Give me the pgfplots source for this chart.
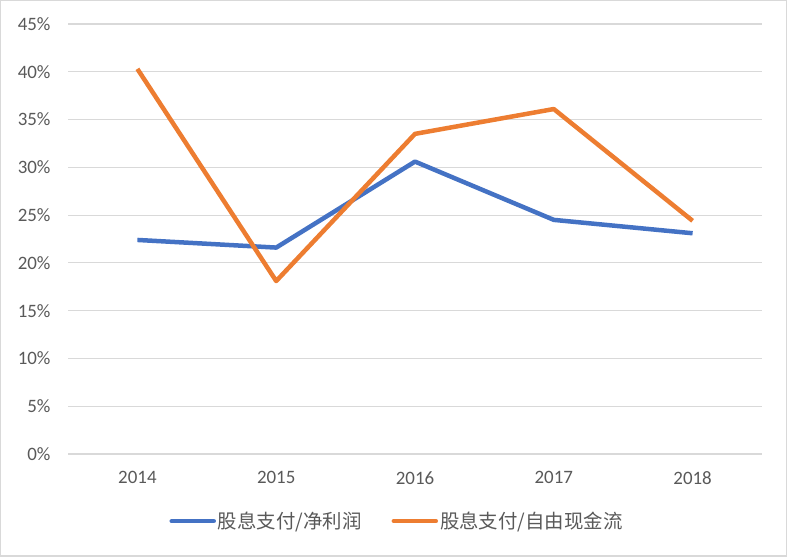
\documentclass[border=0pt]{standalone}
\usepackage{pgfplots}
\pgfplotsset{compat=1.18}
\usepackage{fontspec}
\setmainfont{Carlito}
\newfontfamily\cjk{Noto Sans CJK SC}
\definecolor{xblue}{HTML}{4472C4}
\definecolor{xorange}{HTML}{ED7D31}
\definecolor{xgrid}{HTML}{D9D9D9}
\definecolor{xtext}{HTML}{595959}
\begin{document}
\begin{tikzpicture}[x=1bp,y=1bp]
\draw[draw=xgrid,line width=1.5bp] (0.75,0.75) rectangle (786.25,556.25);
\begin{axis}[
  at={(68bp,103bp)}, anchor=south west,
  scale only axis, width=694bp, height=430bp,
  xmin=2013.5, xmax=2018.5, ymin=0, ymax=45,
  axis line style={draw=none},
  xtick={2014,2015,2016,2017,2018},
  ytick={0,5,...,45},
  xticklabel style={/pgf/number format/1000 sep={}},
  yticklabel={\pgfmathprintnumber{\tick}\%},
  /pgf/number format/assume math mode=true,
  tick style={draw=none},
  ymajorgrids, grid style={xgrid, line width=1.2bp},
  ticklabel style={font=\fontsize{19}{22}\selectfont, text=xtext},
  xticklabel style={yshift=-14bp},
  yticklabel style={xshift=-14bp},
  legend style={at={(0.5,-0.156)}, anchor=center, xshift=-18bp, draw=none, fill=none,
    legend columns=2, font=\fontsize{19.5}{22}\selectfont\cjk, text=xtext,
    /tikz/every even column/.append style={column sep=28bp}},
  legend image code/.code={\draw[#1, line cap=round] (0bp,0bp) -- (42bp,0bp);},
]
\addplot[xblue, line width=4.5bp, line join=round] coordinates {
(2014,22.4) (2015,21.6) (2016,30.6) (2017,24.5) (2018,23.1)};
\addlegendentry{股息支付/净利润}
\addplot[xorange, line width=4.5bp, line join=round] coordinates {
(2014,40.3) (2015,18.1) (2016,33.5) (2017,36.1) (2018,24.4)};
\addlegendentry{股息支付/自由现金流}
\end{axis}
\end{tikzpicture}
\end{document}
